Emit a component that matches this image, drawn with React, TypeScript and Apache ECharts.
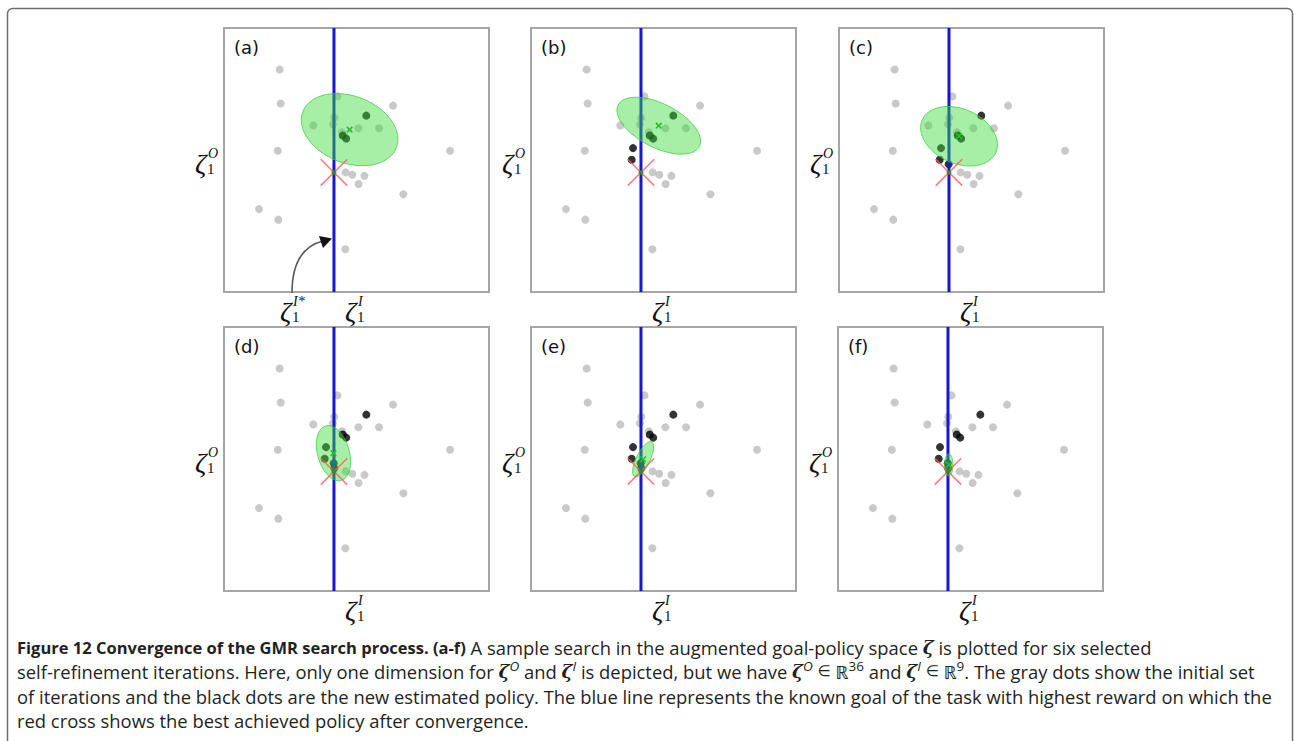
import React, { useEffect, useRef } from "react";
import * as echarts from "echarts";

// ---------- data (panel units: 0..100 on both axes) ----------
const panelLabels = ["(a)", "(b)", "(c)", "(d)", "(e)", "(f)"];

// initial set of iterations (gray dots)
const grayX = [21.0, 21.4, 20.3, 13.2, 20.5, 45.8, 42.8, 41.6, 41.1, 33.7, 50.7, 58.5, 63.8, 85.3, 45.9, 48.4, 53.0, 50.8, 67.7, 44.5];
const grayY = [84.3, 71.4, 53.5, 31.4, 27.4, 16.2, 74.1, 66.0, 63.5, 63.1, 62.0, 62.0, 70.6, 53.5, 45.3, 44.4, 44.0, 40.9, 37.0, 60.5];

// new estimated policies (black dots), in order of appearance
const newX = [53.7, 44.8, 46.1, 38.5, 38.0, 41.4, 41.6];
const newY = [66.8, 59.3, 58.1, 54.5, 50.1, 48.4, 46.5];
const newCount = [3, 5, 6, 7, 7, 7];

// known goal (blue line) and best achieved policy (red cross)
const goalX = 41.5;
const bestY = 45.3;

// GMR gaussian (green ellipse): centre, semi-axes, angle (deg, clockwise)
const ellCX = [47.4, 48.2, 45.3, 41.3, 42.3, 41.8];
const ellCY = [61.5, 63.0, 59.0, 52.2, 49.9, 47.8];
const ellA = [18.9, 17.2, 15.2, 10.7, 7.3, 4.1];
const ellB = [12.7, 8.3, 10.3, 6.0, 2.6, 1.6];
const ellAngle = [21, 27, 24, 74, -64, 90];

// ---------- layout ----------
const panelLeft = [224, 531, 839, 224, 531, 838];
const panelTop = [28, 28, 28, 327, 327, 327];
const PW = 265;
const PH = 264;

const SERIF = '"Liberation Serif", "DejaVu Serif", serif';
const CAP_FONT = '"Open Sans", "Noto Sans", sans-serif';
const CAP_SIZE = 18.4;

function zeta(x: number, yc: number, sup: string, key: string) {
  return [
    {
      type: "text",
      id: key + "z",
      x,
      y: yc,
      silent: true,
      style: { text: "ζ", fontSize: 28, fontStyle: "italic", fontFamily: SERIF, fill: "#111", align: "left", verticalAlign: "middle", textAlign: "left", textVerticalAlign: "middle" },
    },
    {
      type: "text",
      id: key + "sup",
      x: x + 13,
      y: yc - 10,
      silent: true,
      style: { text: sup, fontSize: 14, fontStyle: "italic", fontFamily: SERIF, fill: "#111", align: "left", verticalAlign: "middle", textAlign: "left", textVerticalAlign: "middle" },
    },
    {
      type: "text",
      id: key + "sub",
      x: x + 12,
      y: yc + 6,
      silent: true,
      style: { text: "1", fontSize: 15, fontFamily: SERIF, fill: "#111", align: "left", verticalAlign: "middle", textAlign: "left", textVerticalAlign: "middle" },
    },
  ];
}

function buildOption() {
  const grids: any[] = [];
  const xAxes: any[] = [];
  const yAxes: any[] = [];
  const series: any[] = [];
  const graphics: any[] = [];

  graphics.push({
    type: "rect",
    id: "frame",
    silent: true,
    shape: { x: 7.5, y: 8.5, width: 1285, height: 800, r: 5 },
    style: { fill: "none", stroke: "#6e6e6e", lineWidth: 1.5 },
  });

  const grayData = grayX.map((x, k) => [x, grayY[k]]);

  for (let i = 0; i < 6; i++) {
    grids.push({
      left: panelLeft[i],
      top: panelTop[i],
      width: PW,
      height: PH,
      show: true,
      backgroundColor: "#fff",
      borderColor: "#a6a6a6",
      borderWidth: 2,
    });
    xAxes.push({ type: "value", gridIndex: i, min: 0, max: 100, show: false });
    yAxes.push({ type: "value", gridIndex: i, min: 0, max: 100, show: false });

    series.push({
      type: "scatter",
      xAxisIndex: i,
      yAxisIndex: i,
      silent: true,
      symbolSize: 8,
      itemStyle: { color: "#bcbcbc" },
      data: grayData,
      z: 2,
    });
    series.push({
      type: "scatter",
      xAxisIndex: i,
      yAxisIndex: i,
      silent: true,
      symbolSize: 8,
      itemStyle: { color: "#000" },
      data: newX.slice(0, newCount[i]).map((x, k) => [x, newY[k]]),
      z: 3,
    });
    series.push({
      type: "line",
      xAxisIndex: i,
      yAxisIndex: i,
      silent: true,
      symbol: "none",
      lineStyle: { color: "#1616d4", width: 3 },
      data: [
        [goalX, 0],
        [goalX, 100],
      ],
      z: 4,
    });
    series.push({
      type: "custom",
      xAxisIndex: i,
      yAxisIndex: i,
      silent: true,
      data: [[ellCX[i], ellCY[i], ellA[i], ellB[i], ellAngle[i]]],
      renderItem: (params: any, api: any) => {
        const c = api.coord([api.value(0), api.value(1)]);
        const ra = api.size([api.value(2), 0])[0];
        const rb = api.size([0, api.value(3)])[1];
        const th = (api.value(4) * Math.PI) / 180;
        const pts: number[][] = [];
        for (let k = 0; k < 90; k++) {
          const t = (k / 90) * Math.PI * 2;
          const ux = ra * Math.cos(t);
          const uy = rb * Math.sin(t);
          pts.push([c[0] + ux * Math.cos(th) - uy * Math.sin(th), c[1] + ux * Math.sin(th) + uy * Math.cos(th)]);
        }
        return {
          type: "polygon",
          shape: { points: pts },
          style: { fill: "rgba(60,220,60,0.45)", stroke: "rgba(60,200,60,0.75)", lineWidth: 1 },
        };
      },
      z: 5,
    });
    // red cross: best achieved policy
    series.push({
      type: "custom",
      xAxisIndex: i,
      yAxisIndex: i,
      silent: true,
      data: [[goalX, bestY]],
      renderItem: (params: any, api: any) => {
        const c = api.coord([api.value(0), api.value(1)]);
        const d = api.size([5, 5]);
        const st = { stroke: "rgba(255,90,90,0.8)", lineWidth: 1.5 };
        return {
          type: "group",
          children: [
            { type: "line", shape: { x1: c[0] - d[0], y1: c[1] - d[1], x2: c[0] + d[0], y2: c[1] + d[1] }, style: st },
            { type: "line", shape: { x1: c[0] - d[0], y1: c[1] + d[1], x2: c[0] + d[0], y2: c[1] - d[1] }, style: st },
          ],
        };
      },
      z: 6,
    });
    // small green markers: goal point and gaussian centre
    series.push({
      type: "scatter",
      xAxisIndex: i,
      yAxisIndex: i,
      silent: true,
      symbolSize: 5,
      itemStyle: { color: "#1f8f1f" },
      data: [[goalX, bestY]],
      z: 7,
    });
    series.push({
      type: "custom",
      xAxisIndex: i,
      yAxisIndex: i,
      silent: true,
      data: [[ellCX[i], ellCY[i]]],
      renderItem: (params: any, api: any) => {
        const c = api.coord([api.value(0), api.value(1)]);
        const s = 2.8;
        const st = { stroke: "#22c322", lineWidth: 1.6 };
        return {
          type: "group",
          children: [
            { type: "line", shape: { x1: c[0] - s, y1: c[1] - s, x2: c[0] + s, y2: c[1] + s }, style: st },
            { type: "line", shape: { x1: c[0] - s, y1: c[1] + s, x2: c[0] + s, y2: c[1] - s }, style: st },
          ],
        };
      },
      z: 7,
    });

    // panel letter
    graphics.push({
      type: "text",
      id: "lbl" + i,
      x: panelLeft[i] + 10,
      y: panelTop[i] + 19,
      silent: true,
      z: 100,
      style: { text: panelLabels[i], fontSize: 18, fontFamily: '"DejaVu Sans", sans-serif', fill: "#111", align: "left", verticalAlign: "middle", textAlign: "left", textVerticalAlign: "middle" },
    });
    // axis labels
    graphics.push(...zeta(panelLeft[i] - 29, panelTop[i] + 135, "O", "yl" + i));
    const blueX = panelLeft[i] + (goalX / 100) * PW;
    graphics.push(...zeta(blueX + 11, panelTop[i] + PH + 19, "I", "xl" + i));
  }

  // ζ1^{I*} and its arrow (panel a)
  graphics.push(...zeta(280, 311, "I*", "star"));
  graphics.push({
    type: "bezierCurve",
    id: "arrowCurve",
    silent: true,
    shape: { x1: 292, y1: 293, cpx1: 292, cpy1: 262, cpx2: 303, cpy2: 246, x2: 323, y2: 241 },
    style: { stroke: "#5a5a5a", lineWidth: 1.6, fill: "none" },
    z: 100,
  });
  graphics.push({
    type: "polygon",
    id: "arrowHead",
    silent: true,
    shape: { points: [[332, 238.5], [319, 236], [323, 248]] },
    style: { fill: "#111" },
    z: 100,
  });

  // caption
  const capRich = {
    b: { fontWeight: "bold", fontFamily: CAP_FONT, fontSize: 16.5 },
    z: { fontWeight: "bold", fontStyle: "italic", fontFamily: '"DejaVu Serif", serif', fontSize: 18.5 },
    sup: { fontSize: 13.5, fontStyle: "italic", fontFamily: CAP_FONT, verticalAlign: "top", lineHeight: 15 },
    supn: { fontSize: 13.5, fontFamily: CAP_FONT, verticalAlign: "top", lineHeight: 15 },
    s: { fontSize: 15, fontFamily: '"DejaVu Sans", sans-serif' },
  };
  const capLines = [
    "{b|Figure 12 Convergence of the GMR search process. (a-f)} A sample search in the augmented goal-policy space {z|ζ} is plotted for six selected",
    "self-refinement iterations. Here, only one dimension for {z|ζ}{sup|O} and {z|ζ}{sup|I} is depicted, but we have {z|ζ}{sup|O} {s|∈} ℝ{supn|36} and {z|ζ}{sup|I} {s|∈} ℝ{supn|9}. The gray dots show the initial set",
    "of iterations and the black dots are the new estimated policy. The blue line represents the known goal of the task with highest reward on which the",
    "red cross shows the best achieved policy after convergence.",
  ];
  const capY = [647, 671, 696, 720];
  capLines.forEach((t, k) => {
    graphics.push({
      type: "text",
      id: "cap" + k,
      x: 17,
      y: capY[k],
      silent: true,
      z: 100,
      style: {
        text: t,
        rich: capRich,
        fontSize: CAP_SIZE,
        lineHeight: 24,
        fontFamily: CAP_FONT,
        fill: "#231f20",
        align: "left",
        verticalAlign: "middle",
        textAlign: "left",
        textVerticalAlign: "middle",
      },
    });
  });

  return {
    animation: false,
    backgroundColor: "#fff",
    grid: grids,
    xAxis: xAxes,
    yAxis: yAxes,
    series,
    graphic: { elements: graphics },
  };
}

export default function App() {
  const ref = useRef<HTMLDivElement>(null);
  useEffect(() => {
    const chart = echarts.init(ref.current as HTMLDivElement, null, { renderer: "svg" });
    chart.setOption(buildOption() as any);
    return () => chart.dispose();
  }, []);
  return <div ref={ref} style={{ position: "fixed", left: 0, top: 0, width: 1294, height: 741, background: "#fff" }} />;
}
